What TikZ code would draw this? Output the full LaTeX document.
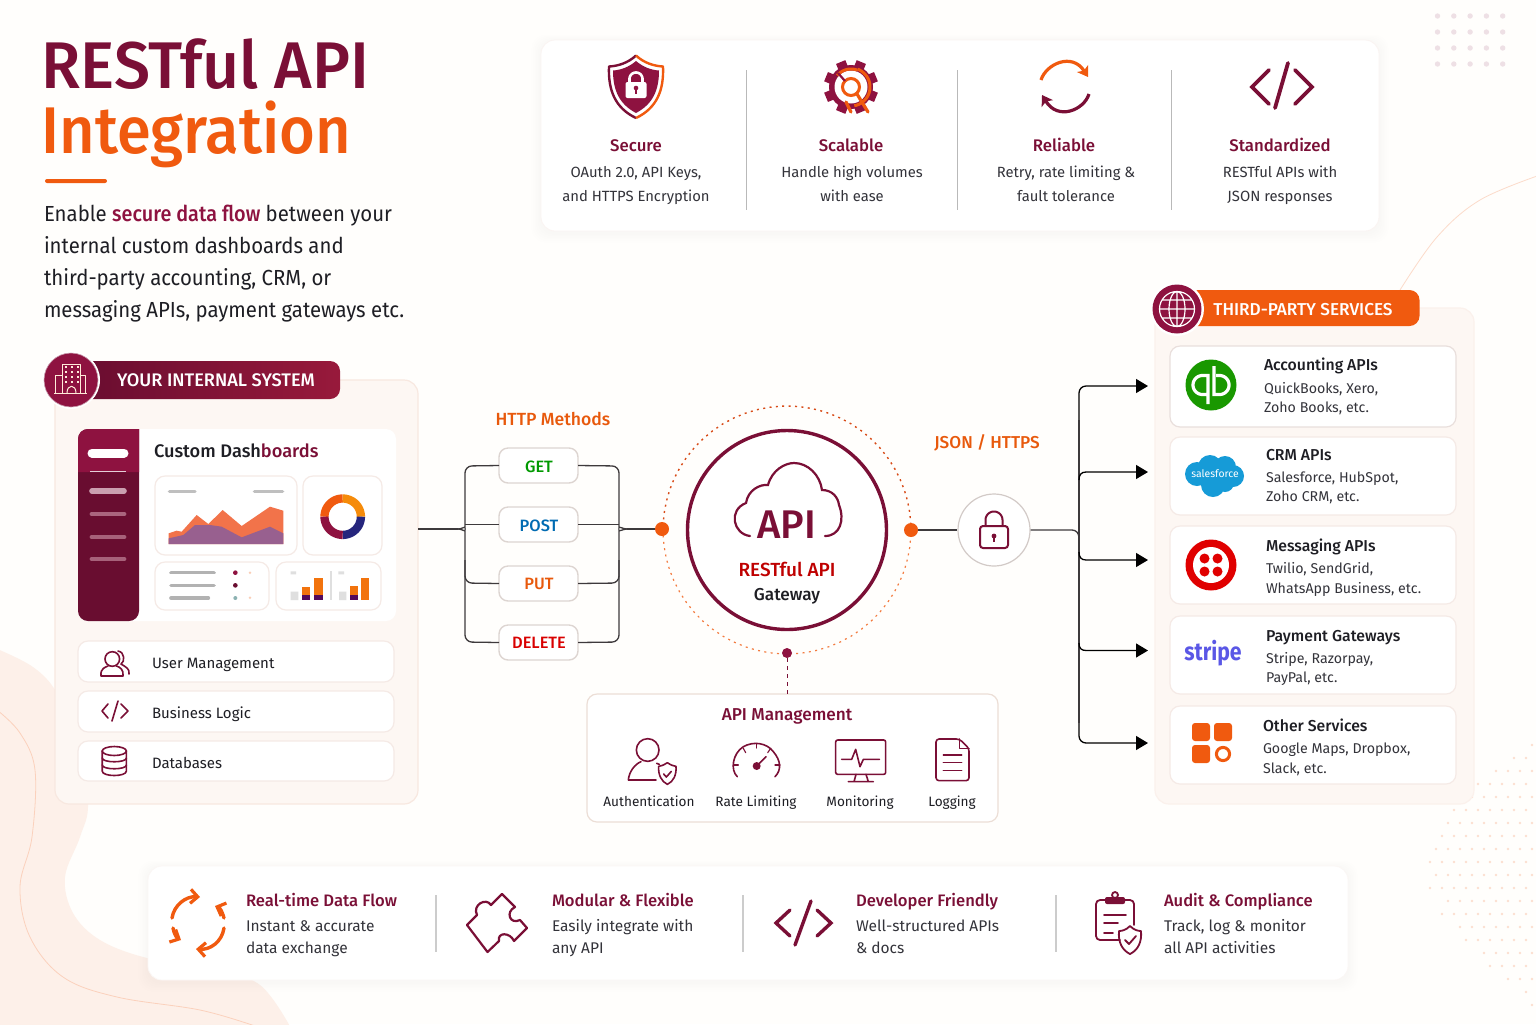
\documentclass[tikz,border=0pt]{standalone}
\usepackage{fontspec}
\usetikzlibrary{arrows.meta,calc}
\setmainfont{Fira Sans}
\newfontfamily\med{Fira Sans}[UprightFont=*-Medium]
\newfontfamily\titleA{Fira Sans}[UprightFont=*-Medium,FakeStretch=.975]
\newfontfamily\titleB{Fira Sans}[UprightFont=*-Medium,FakeStretch=.93]
\newfontfamily\parf{Fira Sans}[FakeStretch=.935]
\newfontfamily\parm{Fira Sans}[UprightFont=*-Medium,FakeStretch=.91]
\newfontfamily\stripef{Fira Sans}[UprightFont=*-Bold,FakeStretch=.85]
\definecolor{maroon}{HTML}{7A0F36}
\definecolor{maroonb}{HTML}{8E1240}
\definecolor{maroond}{HTML}{690D30}
\definecolor{orng}{HTML}{F05A0F}
\definecolor{orngt}{HTML}{E8590C}
\definecolor{ink}{HTML}{1E1E24}
\definecolor{body}{HTML}{33333A}
\definecolor{panel}{HTML}{FDF7F3}
\definecolor{panelb}{HTML}{F8E8E0}
\definecolor{cardb}{HTML}{F5EAE6}
\definecolor{blob}{HTML}{FDF0E9}
\definecolor{wire}{HTML}{3E3A3C}
\definecolor{sfblue}{HTML}{169BD7}
\definecolor{stripeblue}{HTML}{5A57E6}
\definecolor{chartor}{HTML}{F2734A}
\definecolor{chartpu}{HTML}{98608F}
\newcommand\fs[1]{\fontsize{#1}{#1}\selectfont}
\newcommand\parc[5]{plot[domain=#4:#5,samples=32] ({#1+#3*cos(\x)},{#2+#3*sin(\x)})}
\newcommand\bx[6]{\node[#6,inner sep=0pt,outer sep=0pt,minimum width={(#4-#2)*0.5pt},minimum height={(#5-#3)*0.5pt}] (#1) at ({(#2+#4)/2},{(#3+#5)/2}) {};}
\newcommand\softsh[4]{\foreach \k in {1,...,6}{\fill[black,opacity=.004,rounded corners=7pt] (#1-\k*1.6,#2-\k*1.2+2) rectangle (#3+\k*1.6,#4+\k*1.6+2);}}
\tikzset{
 x=0.5pt,y=-0.5pt,
 lbl/.style={inner sep=0pt,outer sep=0pt,text height=7pt,text depth=1pt},
 ltxt/.style={lbl,anchor=west},
 ctxt/.style={lbl,anchor=center},
 toph/.style={ctxt,font=\med\fs{8.4},text=maroon},
 topb/.style={ctxt,font=\fs{7.4},text=body},
 svct/.style={ltxt,font=\med\fs{7.9},text=ink},
 svcb/.style={ltxt,font=\fs{7.1},text=body},
 bott/.style={ltxt,font=\med\fs{8.3},text=maroon},
 botb/.style={ltxt,font=\fs{7.75},text=body},
 para/.style={ltxt,font=\parf\fs{10.9},text=ink},
 mgmt/.style={ctxt,font=\fs{6.8},text=ink},
 whitecard/.style={fill=white,draw=cardb,line width=0.6pt,rectangle,rounded corners=5pt},
 panelbox/.style={fill=panel,draw=panelb,line width=0.6pt,rectangle,rounded corners=7pt},
 methodbox/.style={fill=white,draw=cardb!80!gray,line width=0.7pt,rectangle,rounded corners=4.5pt},
 mlabel/.style={ctxt,font=\med\fs{8.2}},
 wirel/.style={draw=wire,line width=0.65pt},
 harrow/.style={wirel,-{Triangle[length=6pt,width=7pt]},black},
 icon/.style={draw=maroon,line width=0.8pt,line cap=round,line join=round},
 iconb/.style={icon,line width=1.3pt},
 oicon/.style={draw=orng,line width=1.7pt,line cap=round,line join=round},
 barb/.style={-{Straight Barb[length=3.6pt,width=7pt,line width=1.6pt]}},
 stealthtip/.style={-{Stealth[length=5pt,width=6.5pt,inset=1.2pt]}},
}
\begin{document}
\begin{tikzpicture}
\useasboundingbox (0,0) rectangle (1536,1024);
\fill[white!99!orange] (0,0) rectangle (1536,1024);
% background decoration
\begin{scope}
\clip (0,0) rectangle (1536,1024);
\fill[blob] plot[smooth,tension=.6] coordinates {(-5,648) (33,667) (57,693) (77,740) (88,803) (80,837) (65,877) (73,913) (100,940) (147,958) (210,968) (260,985) (292,1030)} -- (-5,1030) -- cycle;
\draw[draw=orng!28,line width=0.4pt] plot[smooth,tension=.6] coordinates {(-3,710) (20,733) (35,770) (32,837) (20,887) (30,937) (63,977) (117,997) (200,1010) (255,1026)};
\draw[draw=orng!22,line width=0.4pt] plot[smooth,tension=.6] coordinates {(1400,290) (1437,237) (1480,200) (1540,175)};
\foreach \j in {0,...,20}{
  \pgfmathtruncatemacro\n{max(0,round(7.6*sin(min(180,\j*9.4))+0.2))}
  \foreach \i in {0,...,\n}{
    \fill[orng!20!white] ({1532-\i*12-mod(\j,2)*6},{745+\j*13}) circle (1.4);
  }
}
\end{scope}
\foreach \i in {0,...,4}\foreach \j in {0,...,3}{\fill[maroon!13!white] ({1437.5+\i*16.3},{16+\j*16}) circle (2.7);}

% title
\node[anchor=base west,inner sep=0pt,font=\titleA\fs{33},text=maroon] (title1) at (41,88) {RESTful API};
\node[anchor=base west,inner sep=0pt,font=\titleB\fs{33},text=orng] (title2) at (41,153) {Integration};
\fill[orng,rounded corners=1pt] (45,179) rectangle (107,183);
\node[para] (p1) at (44,215) {Enable {\parm\color{maroonb}secure data flow} between your};
\node[para] (p2) at (44,247) {internal custom dashboards and};
\node[para] (p3) at (44,279) {third-party accounting, CRM, or};
\node[para] (p4) at (44,311) {messaging APIs, payment gateways etc.};

% top card
\softsh{541}{40}{1379}{231}
\bx{topcard}{541}{40}{1379}{231}{fill=white,rectangle,rounded corners=7pt,draw=cardb!50}
\foreach \x in {746,957,1171}{\draw[gray!55,line width=0.5pt] (\x,70) -- (\x,210);}
\node[toph] (s1) at (636,145) {Secure};
\node[topb] (s1a) at (636,171) {OAuth 2.0, API Keys,};
\node[topb] (s1b) at (636,195) {and HTTPS Encryption};
\node[toph] (s2) at (851,145) {Scalable};
\node[topb] (s2a) at (852,171) {Handle high volumes};
\node[topb] (s2b) at (852,195) {with ease};
\node[toph] (s3) at (1064,145) {Reliable};
\node[topb] (s3a) at (1066,171) {Retry, rate limiting \&};
\node[topb] (s3b) at (1066,195) {fault tolerance};
\node[toph] (s4) at (1280,145) {Standardized};
\node[topb] (s4a) at (1280,171) {RESTful APIs with};
\node[topb] (s4b) at (1280,195) {JSON responses};
% shield
\draw[draw=maroon,line width=1.2pt,line join=round] (636,55.5) .. controls (628,63) and (618,66) .. (609,66.5) .. controls (608,90) and (615,108) .. (636,118);
\draw[draw=orng,line width=1.2pt,line join=round] (636,55.5) .. controls (644,63) and (654,66) .. (663,66.5) .. controls (664,90) and (657,108) .. (636,118);
\fill[maroonb] (636,61) .. controls (629,67) and (621,70) .. (613,70.5) .. controls (613,90) and (619,104) .. (636,113) .. controls (653,104) and (659,90) .. (659,70.5) .. controls (651,70) and (643,67) .. (636,61) -- cycle;
\fill[white,rounded corners=1pt] (625.5,82) rectangle (646.5,98);
\draw[white,line width=1.3pt] (629.5,83) -- (629.5,79) \parc{636}{79}{6.5}{180}{360} -- (642.5,83);
\fill[maroonb] (636,88) circle (2.3); \draw[maroonb,line width=0.8pt] (636,88) -- (636,94);
% gear
\foreach \a in {0,45,...,315}{\fill[maroonb,rotate around={\a+22.5:(851,87)}] (846,60) rectangle (856,72);}
\fill[maroonb] (851,87) circle (22);
\fill[white] (851,87) circle (16.5);
\draw[orng,line width=1.5pt] \parc{851}{87}{19}{-70}{80};
\draw[orng,line width=1.5pt] \parc{851}{87}{18}{-140}{-70};
\draw[orng,line width=1.5pt] (851,87) circle (8.5);
\draw[maroonb,line width=1.1pt] (838,73) -- (845,81);
\draw[orng,line width=1.6pt,line cap=round] (857,94) -- (868,112);
\draw[orng,line width=1.6pt,line cap=round] (846,102) -- (851,112);
% reliable
\draw[orng,line width=1.6pt,stealthtip] (1041,80) .. controls (1046,64) and (1072,52) .. (1088,77);
\draw[maroon,line width=1.6pt,stealthtip] (1089,94) .. controls (1084,110) and (1058,121) .. (1042,95);
% code
\draw[maroon,line width=1.9pt,line cap=round,line join=miter] (1269,70) -- (1252,87) -- (1269,104) (1295,70) -- (1312,87) -- (1295,104) (1288,63) -- (1275,108);

% internal system panel
\bx{inpanel}{55}{380}{418}{804}{panelbox}
\node[rectangle,rounded corners=5pt,left color=maroond,right color=maroonb!90!orng,minimum width=130pt,minimum height=19pt,inner sep=0pt] (inhead) at (210,380) {};
\node[ctxt,font=\med\fs{9.1},text=white] (inheadt) at (216,380) {YOUR INTERNAL SYSTEM};
\fill[white] (71,380) circle (29);
\fill[maroonb,draw=maroon!40!white,line width=0.3pt] (71,380) circle (27);
\begin{scope}[line width=0.5pt,line join=round]
\draw[white!85!orange] (62.5,364) rectangle (80,393.5);
\draw[white!85!orange] (62.5,375) -- (55,375) -- (55,393.5) (80,375) -- (85,375) -- (85,393.5) (54,393.5) -- (87,393.5);
\foreach \yy in {367,372,377,382}{\draw[white!85!orange,line width=0.6pt,dash pattern=on 1pt off 2pt] (65,\yy) -- (79,\yy);}
\draw[white!85!orange] (67,393) .. controls (67,384) and (76,384) .. (76,393);
\end{scope}
% dashboard
\bx{dash}{78}{429}{396}{621}{fill=white,rectangle,rounded corners=5pt}
\fill[maroond,rounded corners=5pt] (139,429) -- (78,429) -- (78,621) -- (139,621) [sharp corners] -- cycle;
\fill[maroonb] (139,429) [rounded corners=5pt] -- (78,429) -- (78,460) [sharp corners] -- (78,472) -- (139,472) -- cycle;
\draw[white,line width=4.5pt,line cap=round] (92,453) -- (124,453);
\draw[white!80!maroon,line width=0.5pt] (90,471) -- (126,471);
\draw[white!60!maroon,line width=2.8pt,line cap=round] (92,491) -- (124,491);
\foreach \yy/\cc in {514/36,537/34,559/34}{\draw[white!\cc!maroon,line width=2.4pt,line cap=round] (92,\yy) -- (124,\yy);}
\node[ltxt,font=\med\fs{9.1},text=ink] (dashtitle) at (154,451.5) {Custom Dash\textcolor{maroon}{boards}};
\bx{chartcard}{155}{476}{297}{555}{whitecard}
\bx{donutcard}{303}{476}{382}{555}{whitecard}
\bx{listcard}{155}{562}{269}{610}{whitecard}
\bx{barcard}{276}{562}{381}{610}{whitecard}
\begin{scope}[shift={(40,340)},x=0.16667pt,y=-0.16667pt]
\fill[chartor] (386,580) -- (410,572) -- (425,575) -- (470,525) -- (505,552) -- (548,510) -- (605,558) -- (690,500) -- (730,512) -- (730,612) -- (386,612) -- cycle;
\fill[chartpu] (386,595) -- (430,585) -- (465,555) -- (510,555) -- (545,560) -- (605,592) -- (690,560) -- (730,580) -- (730,612) -- (386,612) -- cycle;
\draw[gray!50,line width=1.6pt,line cap=round] (388,455) -- (465,455) (643,455) -- (728,455);
\draw[gray!60,line width=1.8pt,line cap=round] (393,698) -- (522,698) (393,736) -- (522,736) (393,774) -- (505,774);
\fill[maroonb] (586,698) circle (7);
\fill[orng!30] (630,698) circle (4);
\fill[maroond] (586,736) circle (7);
\fill[teal!50!gray!60] (586,774) circle (6);
\fill[orng!30] (630,773) circle (4);
\fill[gray!25] (752,755) rectangle (775,780) (897,755) rectangle (919,780);
\fill[gray!25] (752,694) rectangle (768,703) (895,694) rectangle (912,703);
\fill[gray!25] (870,693) rectangle (875,780);
\foreach \xx/\hh in {786/740,823/714,930/738,963/713}{\fill[orng!85!yellow] (\xx,\hh) rectangle (\xx+25,780);}
\foreach \xx in {786,823,930}{\fill[maroond!80!blue] (\xx,765) rectangle (\xx+25,780);}
\end{scope}
% donut
\draw[orng,line width=4.15pt] \parc{342.7}{516.7}{18.2}{180}{270};
\draw[orng!70!yellow,line width=4.15pt] \parc{342.7}{516.7}{18.2}{270}{360};
\draw[blue!40!black!85,line width=4.15pt] \parc{342.7}{516.7}{18.2}{0}{90};
\draw[maroonb,line width=4.15pt] \parc{342.7}{516.7}{18.2}{90}{180};

% left list
\bx{umcard}{78}{641}{394}{682}{whitecard}
\bx{blcard}{78}{691}{394}{732}{whitecard}
\bx{dbcard}{78}{741}{394}{781}{whitecard}
\node[ltxt,font=\fs{7.5},text=ink] (um) at (152,662) {User Management};
\node[ltxt,font=\fs{7.5},text=ink] (bl) at (152,712) {Business Logic};
\node[ltxt,font=\fs{7.5},text=ink] (db) at (152,762) {Databases};
\draw[icon] (112.3,659) circle (7.3);
\draw[icon] (101,676) .. controls (100,668) and (106,667) .. (108,666) (116.5,666) .. controls (120,667) and (124,670) .. (123,676) -- (101,676);
\draw[icon] (118,651) .. controls (125,652) and (125,662) .. (121,664) .. controls (126,667) and (130,669) .. (129,674);
\draw[icon] (108,704) -- (102,711) -- (108,718) (121,704) -- (128,711) -- (121,718) (118,701) -- (112,721);
\draw[icon] (102.2,751) -- (102.2,771) .. controls (102.2,777) and (126.4,777) .. (126.4,771) -- (126.4,751);
\draw[icon] (114.3,751) ellipse (12.1 and 4.5);
\draw[icon] (102.2,758) .. controls (102.2,763) and (126.4,763) .. (126.4,758);
\draw[icon] (102.2,765) .. controls (102.2,770) and (126.4,770) .. (126.4,765);

% methods
\node[ctxt,font=\med\fs{8.8},text=orngt] (httpl) at (553,419) {HTTP Methods};
\bx{get}{499}{448}{578}{483}{methodbox}
\bx{post}{499}{507}{578}{542}{methodbox}
\bx{put}{499}{566}{578}{601}{methodbox}
\bx{del}{499}{625}{578}{660}{methodbox}
\node[mlabel,text=green!60!black] (getl) at (539,466) {GET};
\node[mlabel,text=blue!40!cyan!70!black] (postl) at (539,525) {POST};
\node[mlabel,text=orngt] (putl) at (539,583) {PUT};
\node[mlabel,text=red!85!black] (dell) at (539,642) {DELETE};

% gateway
\draw[draw=orng!80!maroon,line width=0.7pt,dash pattern=on 1pt off 2.2pt] \parc{787}{530}{124}{-178}{-2};
\draw[draw=orng!80!white,line width=0.6pt,dash pattern=on 1pt off 2.2pt] \parc{787}{530}{124}{2}{178};
\node[circle,draw=maroon,line width=1.7pt,fill=white,minimum size=99.5pt,inner sep=0pt] (gate) at (787,530) {};
\draw[maroon,line width=1.1pt,line cap=round] (750,536) .. controls (733,534) and (728,510) .. (746,503) .. controls (748,490) and (760,484) .. (768,485) .. controls (772,470) and (785,463) .. (794,463) .. controls (808,463) and (820,475) .. (822,490) .. controls (832,490) and (838,497) .. (839,505) .. controls (845,520) and (840,536) .. (825,536);
\node[ctxt,font=\med\fs{20},text=maroon,text height=14pt,text depth=0pt] (apil) at (787,524) {API};
\node[ctxt,font=\med\fs{9.5},text=red!75!black] (gatel1) at (787,570) {RESTful API};
\node[ctxt,font=\med\fs{8.6},text=ink] (gatel2) at (787,594) {Gateway};
\node[circle,fill=orng,minimum size=7pt,inner sep=0pt] (dotl) at (662,529) {};
\node[circle,fill=orng,minimum size=7pt,inner sep=0pt] (dotr) at (911,530) {};
\node[circle,fill=maroonb,minimum size=5pt,inner sep=0pt] (dotb) at (787,653) {};
\bx{mgmtcard}{587}{694}{998}{822}{whitecard,draw=panelb!90!gray}
\draw[maroon,line width=0.5pt,dash pattern=on 2pt off 2pt] (dotb) -- (mgmtcard.north -| dotb);

% method wiring
\coordinate (lj) at (465,529);
\coordinate (rj) at (619,529);
\coordinate (lk) at (458,529);
\coordinate (rk) at (627,529);
\draw[wirel] (inpanel.east |- lj) -- (lk);
\draw[wirel,rounded corners=3.5pt] (get.west) -- (465,466) -- (465,521) [sharp corners] .. controls (465,526) and (462,529) .. (lk);
\draw[wirel,rounded corners=3.5pt] (del.west) -- (465,642) -- (465,537) [sharp corners] .. controls (465,532) and (462,529) .. (lk);
\draw[wirel,rounded corners=3.5pt] (put.west) -- (465,583) -- (465,560);
\draw[wirel] (post.west) -- (post.west -| lj);
\draw[wirel,rounded corners=3.5pt] (get.east) -- (619,466) -- (619,521) [sharp corners] .. controls (619,526) and (623,529) .. (rk);
\draw[wirel,rounded corners=3.5pt] (del.east) -- (619,642) -- (619,537) [sharp corners] .. controls (619,532) and (623,529) .. (rk);
\draw[wirel,rounded corners=3.5pt] (put.east) -- (619,583) -- (619,560);
\draw[wirel] (post.east) -- (post.east -| rj);
\draw[wirel] (rk) -- (dotl);

% JSON
\node[ctxt,font=\med\fs{8.6},text=orngt] (jsonl) at (987,442) {JSON / HTTPS};
\node[circle,fill=white,draw=cardb!70!gray,line width=0.6pt,minimum size=36pt,inner sep=0pt] (lock) at (994,530) {};
\draw[wirel] (dotr) -- (lock);
\draw[maroon,line width=1pt,rounded corners=1.5pt] (980,526) rectangle (1008,548);
\draw[maroon,line width=1pt] (985.5,526) -- (985.5,520) \parc{994}{520}{8.5}{180}{360} -- (1002.5,526);
\fill[maroon] (994,536) circle (2.4); \draw[maroon,line width=0.9pt] (994,536) -- (994,542);

% third party
\bx{tppanel}{1155}{308}{1474}{804}{panelbox,draw=panelb!60}
\node[rectangle,rounded corners=5pt,fill=orng,minimum width=119pt,minimum height=18pt,inner sep=0pt] (tphead) at (1300.5,308) {};
\node[ctxt,font=\med\fs{8.6},text=white] (tpheadt) at (1303,309) {THIRD-PARTY SERVICES};
\fill[white] (1177,309) circle (27);
\fill[maroonb] (1177,309) circle (24.5);
\draw[white,line width=0.6pt] (1177,309) circle (17.5) (1177,309) ellipse (8 and 17.5) (1177,291.5) -- (1177,326.5) (1159.5,309) -- (1194.5,309) (1162,300) -- (1192,300) (1162,318) -- (1192,318);
% service cards
\bx{svc1}{1170}{346}{1456}{427}{whitecard,draw=cardb!90!gray}
\bx{svc2}{1170}{437}{1456}{515}{whitecard}
\bx{svc3}{1170}{526}{1456}{604}{whitecard}
\bx{svc4}{1170}{616}{1456}{694}{whitecard}
\bx{svc5}{1170}{706}{1456}{784}{whitecard}
\node[svct] (a1) at (1264,364) {Accounting APIs};
\node[svcb] (a2) at (1264,387) {QuickBooks, Xero,};
\node[svcb] (a3) at (1264,406) {Zoho Books, etc.};
\node[svct] (b1) at (1266,454) {CRM APIs};
\node[svcb] (b2) at (1266,476) {Salesforce, HubSpot,};
\node[svcb] (b3) at (1266,495) {Zoho CRM, etc.};
\node[svct] (c1) at (1266,545) {Messaging APIs};
\node[svcb] (c2) at (1266,567) {Twilio, SendGrid,};
\node[svcb] (c3) at (1266,587) {WhatsApp Business, etc.};
\node[svct] (d1) at (1266,635) {Payment Gateways};
\node[svcb] (d2) at (1266,657) {Stripe, Razorpay,};
\node[svcb] (d3) at (1266,676) {PayPal, etc.};
\node[svct] (e1) at (1263,725) {Other Services};
\node[svcb] (e2) at (1263,747) {Google Maps, Dropbox,};
\node[svcb] (e3) at (1263,767) {Slack, etc.};
% qb
\fill[green!55!black!90!yellow] (1211,385) circle (25.5);
\draw[white,line width=1.6pt] (1208,404) -- (1208,375.5) -- (1202.5,375.5) \parc{1202.5}{385}{9.5}{-90}{-270} -- (1206,394.5);
\draw[white,line width=1.6pt] (1214,366) -- (1214,394.5) -- (1219.5,394.5) \parc{1219.5}{385}{9.5}{90}{-90} -- (1216,375.5);
% salesforce
\fill[sfblue] (1197,474) circle (12) (1210,467) circle (12) (1225,467) circle (11) (1233,476) circle (11) (1213,485) circle (12) (1225,483) circle (9);
\node[ctxt,font=\fs{5.2},text=white,text height=3.6pt,text depth=1pt] (sf) at (1215,474.5) {salesforce};
% twilio
\fill[red!88!black] (1211,565) circle (25.5);
\fill[white] (1211,565) circle (18);
\foreach \dx/\dy in {-6.5/-6.5,6.5/-6.5,-6.5/6.5,6.5/6.5}{\fill[red!88!black] (1211+\dx,565+\dy) circle (5);}
% stripe
\node[ctxt,font=\stripef\fs{12.5},text=stripeblue,text height=9pt,text depth=3pt] (stripe) at (1213,654) {stripe};
% other
\fill[orng,rounded corners=1.5pt] (1192,723) rectangle (1210,741) (1214,723) rectangle (1232,741) (1192,745) rectangle (1210,763);
\draw[orng,line width=1.5pt] (1223,754) circle (6.6);
% wiring right
\coordinate (a1t) at (1148,386); \coordinate (a2t) at (1148,472); \coordinate (a3t) at (1148,560); \coordinate (a4t) at (1148,650.5); \coordinate (a5t) at (1148,743);
\draw[wirel] (lock) -- (1072,530) .. controls (1076,530) and (1079,533) .. (1079,538);
\draw[harrow,rounded corners=3.5pt] (1079,420) -- (1079,386) -- (a1t);
\draw[harrow,rounded corners=3.5pt] (1079,723) -- (1079,743) -- (a5t);
\draw[wirel] (1079,420) -- (1079,723);
\draw[harrow] (1079,480) .. controls (1079,475) and (1081,472) .. (1086,472) -- (a2t);
\draw[harrow] (1079,552) .. controls (1079,557) and (1081,560) .. (1086,560) -- (a3t);
\draw[harrow] (1079,643) .. controls (1079,648) and (1081,650.5) .. (1086,650.5) -- (a4t);

% API management
\node[ctxt,font=\med\fs{8.6},text=maroon] (mgmttitle) at (787,714) {API Management};
\node[mgmt] (m1) at (649,800) {Authentication};
\node[mgmt] (m2) at (756,800) {Rate Limiting};
\node[mgmt] (m3) at (860,800) {Monitoring};
\node[mgmt] (m4) at (952,800) {Logging};
\begin{scope}[shift={(580,640)},x=0.16667pt,y=-0.16667pt]
\draw[icon] (203,330) circle (34);
\draw[icon] (145,420) .. controls (147,395) and (165,372) .. (183,365) (230,370) -- (238,373) (145,420) -- (228,420);
\draw[icon] (262,368) .. controls (250,376) and (243,378) .. (236,379) .. controls (234,405) and (245,425) .. (262,433) .. controls (280,425) and (290,405) .. (288,379) .. controls (281,378) and (274,376) .. (262,368) -- cycle;
\draw[icon] (251,402) -- (259,411) -- (274,394);
\draw[icon] (472,410) .. controls (450,390) and (458,340) .. (490,320) .. controls (520,303) and (560,308) .. (580,335) .. controls (603,362) and (605,390) .. (585,410);
\foreach \aa/\bb/\cc/\dd in {460/375/475/375,490/325/497/338,530/310/530/324,572/325/563/338,600/375/585/375}{\draw[icon,line width=.55pt] (\aa,\bb) -- (\cc,\dd);}
\draw[icon] (530,378) -- (558,350);
\fill[maroon] (530,378) circle (12);
\draw[icon,rounded corners=1pt] (767,300) rectangle (917,403);
\draw[icon] (828,403) -- (822,425) (858,403) -- (865,425) (805,425) -- (880,425);
\draw[icon] (785,358) -- (815,358) -- (827,328) -- (840,380) -- (850,358) -- (898,358);
\draw[icon,rounded corners=1.5pt] (1138,297) -- (1068,297) -- (1068,422) -- (1167,422) -- (1167,325) -- cycle;
\draw[icon] (1138,297) -- (1138,325) -- (1167,325);
\draw[icon] (1090,345) -- (1145,345) (1090,368) -- (1145,368) (1090,392) -- (1145,392);
\end{scope}

% bottom card
\softsh{148}{866}{1348}{980}
\bx{botcard}{148}{866}{1348}{980}{fill=white,rectangle,rounded corners=7pt,draw=cardb!40}
\foreach \x in {436,743,1056}{\draw[gray!40,line width=0.6pt] (\x,895) -- (\x,952);}
\node[bott] (f1) at (246,900) {Real-time Data Flow};
\node[botb] (f1a) at (246,925) {Instant \& accurate};
\node[botb] (f1b) at (246,947) {data exchange};
\node[bott] (f2) at (552,900) {Modular \& Flexible};
\node[botb] (f2a) at (552,925) {Easily integrate with};
\node[botb] (f2b) at (552,947) {any API};
\node[bott] (f3) at (856,900) {Developer Friendly};
\node[botb] (f3a) at (856,925) {Well-structured APIs};
\node[botb] (f3b) at (856,947) {\& docs};
\node[bott] (f4) at (1164,900) {Audit \& Compliance};
\node[botb] (f4a) at (1164,925) {Track, log \& monitor};
\node[botb] (f4b) at (1164,947) {all API activities};
% real-time icon
\draw[oicon,barb] (172,918) .. controls (174,905) and (186,896) .. (200,897);
\draw[oicon,barb] (224,918) .. controls (222,911) and (220,908) .. (215,906);
\draw[oicon,barb] (224,928) .. controls (222,942) and (210,950) .. (196,949);
\draw[oicon,barb] (173,928) .. controls (174,934) and (177,938) .. (181,940);
% puzzle
\draw[iconb,line width=1.1pt] (467,925) -- (477,915) .. controls (472,905) and (486,897) .. (491,905) -- (502,894) -- (515,907) .. controls (505,912) and (510,925) .. (520,920) -- (527,928) -- (514,941) .. controls (510,932) and (497,932) .. (499,941) -- (487.5,952) -- cycle;
% dev icon
\draw[maroon,line width=1.7pt,line cap=round] (790,910) -- (776,923) -- (790,936) (817,910) -- (831,923) -- (817,936) (811,901) -- (795,945);
% audit
\draw[icon,line width=.9pt,rounded corners=2pt] (1120,940) -- (1096,940) -- (1096,900) -- (1134,900) -- (1134,925);
\fill[maroon,rounded corners=1pt] (1105,897) rectangle (1125,904);
\draw[icon,line width=.9pt] (1115,895) circle (3);
\draw[icon,line width=.9pt] (1104,915) -- (1126,915) (1104,923) -- (1118,923) (1104,933) -- (1113,933);
\draw[icon,line width=.9pt] (1130,926) .. controls (1126,930) and (1122,931) .. (1119,931) .. controls (1118,942) and (1122,950) .. (1130,954) .. controls (1138,950) and (1142,942) .. (1141,931) .. controls (1138,931) and (1134,930) .. (1130,926) -- cycle;
\draw[icon,line width=.9pt] (1125,940) -- (1129,944) -- (1136,936);
\end{tikzpicture}
\end{document}
